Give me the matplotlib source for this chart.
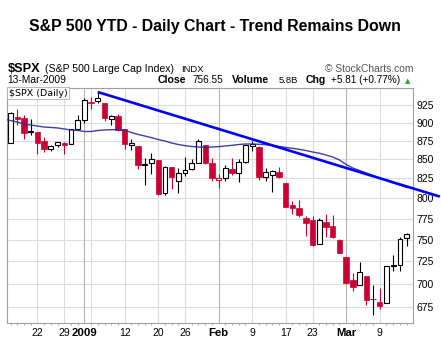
#!/usr/bin/env python3

import numpy as np
import matplotlib
matplotlib.use("Agg")
from matplotlib import pyplot as plt
from matplotlib.ticker import FixedLocator, NullLocator

plt.rcParams['font.family'] = ['Liberation Sans', 'DejaVu Sans']

# daily $SPX bars, Dec 15 2008 .. Mar 13 2009 (first bar sits just off the left edge)
dates = ['2008-12-15', '2008-12-16', '2008-12-17', '2008-12-18', '2008-12-19',
         '2008-12-22', '2008-12-23', '2008-12-24', '2008-12-26', '2008-12-29',
         '2008-12-30', '2008-12-31', '2009-01-02', '2009-01-05', '2009-01-06',
         '2009-01-07', '2009-01-08', '2009-01-09', '2009-01-12', '2009-01-13',
         '2009-01-14', '2009-01-15', '2009-01-16', '2009-01-20', '2009-01-21',
         '2009-01-22', '2009-01-23', '2009-01-26', '2009-01-27', '2009-01-28',
         '2009-01-29', '2009-01-30', '2009-02-02', '2009-02-03', '2009-02-04',
         '2009-02-05', '2009-02-06', '2009-02-09', '2009-02-10', '2009-02-11',
         '2009-02-12', '2009-02-13', '2009-02-17', '2009-02-18', '2009-02-19',
         '2009-02-20', '2009-02-23', '2009-02-24', '2009-02-25', '2009-02-26',
         '2009-02-27', '2009-03-02', '2009-03-03', '2009-03-04', '2009-03-05',
         '2009-03-06', '2009-03-09', '2009-03-10', '2009-03-11', '2009-03-12',
         '2009-03-13']
opens = [881.07, 871.53, 908.16, 905.98, 886.96, 887.20, 874.31, 863.87, 869.51, 872.37,
         870.58, 890.59, 902.99, 929.17, 931.17, 927.45, 905.73, 909.91, 890.40, 869.79,
         867.28, 841.99, 844.45, 849.64, 806.77, 839.74, 822.16, 832.50, 837.30, 845.73,
         868.89, 845.69, 823.09, 825.69, 837.77, 831.75, 846.09, 868.24, 866.87, 827.41,
         829.91, 833.95, 818.61, 791.06, 787.91, 775.87, 773.25, 744.69, 770.64, 765.76,
         749.93, 729.57, 704.44, 698.60, 708.27, 684.04, 680.76, 679.28, 719.59, 720.89,
         751.97]
highs = [884.63, 914.66, 918.85, 911.02, 905.47, 887.37, 880.44, 869.79, 873.74, 873.70,
         891.12, 910.32, 934.73, 936.63, 943.85, 927.45, 910.00, 911.93, 890.40, 877.02,
         867.28, 851.59, 858.13, 849.64, 841.72, 839.74, 838.61, 852.53, 850.45, 877.86,
         868.89, 851.66, 830.78, 842.60, 851.85, 850.55, 870.75, 875.01, 868.05, 838.22,
         835.48, 839.43, 818.61, 796.17, 797.58, 778.69, 777.85, 775.49, 780.12, 779.42,
         751.27, 729.57, 711.67, 724.12, 708.27, 699.09, 695.27, 719.60, 731.92, 752.63,
         758.29]
lows = [857.72, 871.53, 895.94, 877.44, 883.02, 857.09, 860.10, 861.44, 866.52, 857.07,
        870.58, 889.67, 899.35, 919.53, 927.28, 902.37, 896.81, 888.31, 864.32, 862.02,
        836.93, 817.04, 830.66, 804.47, 804.30, 811.29, 806.07, 827.69, 835.40, 845.73,
        844.15, 821.67, 812.87, 821.98, 829.18, 819.91, 845.42, 861.65, 822.99, 822.30,
        808.06, 825.21, 789.17, 780.43, 777.03, 754.25, 742.37, 744.69, 752.89, 751.75,
        734.52, 699.70, 692.30, 698.60, 677.93, 666.79, 672.88, 679.28, 713.85, 714.76,
        742.46]
closes = [868.57, 913.18, 904.42, 885.28, 887.88, 871.63, 863.16, 868.15, 872.80, 869.42,
          890.64, 903.25, 931.80, 927.45, 934.70, 906.65, 909.73, 890.35, 870.26, 871.79,
          842.62, 843.74, 850.12, 805.22, 840.24, 827.50, 831.95, 836.57, 845.71, 874.09,
          845.14, 825.88, 825.44, 838.51, 832.23, 845.85, 868.60, 869.89, 827.16, 833.74,
          835.19, 826.84, 789.17, 788.42, 778.94, 770.05, 743.33, 773.14, 764.90, 752.83,
          735.09, 700.82, 696.33, 712.87, 682.55, 683.38, 676.53, 719.60, 721.36, 750.74,
          756.55]
# moving average overlay
ma_vals = [905.0, 902.9, 900.8, 898.0, 896.6, 895.2, 893.8, 893.2, 892.5, 891.1,
           889.7, 889.0, 887.6, 887.6, 889.0, 889.7, 890.1, 890.1, 889.3, 886.2,
           883.5, 881.4, 879.1, 876.6, 874.6, 871.8, 869.8, 868.2, 867.1, 866.4,
           866.0, 866.4, 866.9, 867.8, 868.7, 869.8, 870.5, 870.5, 870.1, 869.5,
           868.7, 867.1, 865.8, 864.7, 863.3, 861.7, 859.7, 858.0, 855.7, 853.0,
           849.1, 843.1, 838.5, 835.3, 832.0, 828.8, 825.3, 822.4, 819.2, 816.6,
           813.7]

tick_dates = ['2008-12-22', '2008-12-29', '2009-01-02', '2009-01-12', '2009-01-20',
              '2009-01-26', '2009-02-02', '2009-02-09', '2009-02-17', '2009-02-23',
              '2009-03-02', '2009-03-09']
tick_labels = ['22', '29', '2009', '12', '20', '26', 'Feb', '9', '17', '23', 'Mar', '9']
bold_labels = ['2009', 'Feb', 'Mar']
week_dates = ['2008-12-22', '2008-12-29', '2009-01-05', '2009-01-12', '2009-01-20',
              '2009-01-26', '2009-02-09', '2009-02-17', '2009-02-23', '2009-03-09']
month_dates = ['2009-01-02', '2009-02-02', '2009-03-02']
price_ticks = [675, 700, 725, 750, 775, 800, 825, 850, 875, 900, 925]

# hand-drawn trend line: from the Jan 6 high, running past the right edge
trend_x = [14, 64.96]
trend_vals = [943.85, 802.0]

red = '#cc0033'
W, H = 441, 361

fig = plt.figure(figsize=(W / 100, H / 100), dpi=100)
fig.patch.set_facecolor('white')
ax = fig.add_axes([7.3 / W, 1 - 323.3 / H, (413.3 - 7.3) / W, (323.3 - 88) / H])

ax.set_yscale('log')
ax.set_ylim(658.4, 949.8)
ax.set_xlim(0.52, 61.0)

x = np.arange(len(dates))

# grid
for p in price_ticks:
    ax.axhline(p, color='#dcdcdc', lw=0.8, zorder=0)
for d in week_dates:
    ax.axvline(dates.index(d), color='#dcdcdc', lw=0.8, zorder=0)
for d in month_dates:
    ax.axvline(dates.index(d), color='#b4b4b4', lw=0.8, zorder=0)

# candles
for i in range(len(dates)):
    o, h, l, c = opens[i], highs[i], lows[i], closes[i]
    prev = closes[i - 1] if i > 0 else o
    col = red if c < prev else 'black'
    ax.vlines(i, l, h, color=col, lw=0.8, zorder=3)
    if c > o:
        ax.bar(i, c - o, bottom=o, width=0.7, facecolor='white', edgecolor=col,
               lw=0.8, zorder=4)
    else:
        ax.bar(i, max(o - c, 0.5), bottom=c, width=0.8, facecolor=col, edgecolor=col,
               lw=0.5, zorder=4)

ax.plot(x, ma_vals, color='#2b2b99', lw=1.0, alpha=0.9, zorder=5)
ax.plot(trend_x, trend_vals, color='#0000ff', lw=1.9, zorder=6, clip_on=False,
        solid_capstyle='butt')

# axes styling
for s in ax.spines.values():
    s.set_color('#a0a0a0')
    s.set_linewidth(0.8)

ax.yaxis.tick_right()
ax.yaxis.set_major_locator(FixedLocator(price_ticks))
ax.yaxis.set_minor_locator(NullLocator())
ax.set_yticklabels([str(p) for p in price_ticks])
ax.tick_params(axis='y', which='major', length=0, pad=2.5, labelsize=7.5,
               labelcolor='black')

ax.set_xticks([dates.index(d) for d in tick_dates])
ax.set_xticklabels(tick_labels)
ax.xaxis.set_minor_locator(FixedLocator(x))
ax.tick_params(axis='x', which='major', length=0, pad=3.5, labelsize=7.5)
ax.tick_params(axis='x', which='minor', length=1.5, width=0.6, color='#a0a0a0')
for t in ax.get_xticklabels():
    if t.get_text() in bold_labels:
        t.set_fontweight('bold')
        t.set_fontsize(8.2)

ax.text(0.004, 0.997, '$SPX (Daily)', transform=ax.transAxes, ha='left', va='top',
        fontsize=6.8, family='DejaVu Sans', zorder=8,
        bbox=dict(facecolor='white', edgecolor='#b0b0b0', lw=0.6, pad=1.2))

# title and header lines
fig.text(214.5 / W, 1 - 26 / H, 'S&P 500 YTD - Daily Chart - Trend Remains Down',
         ha='center', va='center', fontsize=11.4, fontweight='bold')

y1 = 1 - 71.5 / H
fig.text(7.3 / W, y1, '$SPX', fontsize=9.2, fontweight='bold', va='baseline')
fig.text(45 / W, y1, '(S&P 500 Large Cap Index)', fontsize=7.6, va='baseline')
fig.text(181 / W, y1, 'INDX', fontsize=6.8, va='baseline')
fig.text(413.3 / W, y1, '© StockCharts.com', fontsize=7.4, va='baseline', ha='right',
         color='#555555')

y2 = 1 - 82.7 / H
fig.text(7.3 / W, y2, '13-Mar-2009', fontsize=7.4, va='baseline')
fig.text(157.3 / W, y2, 'Close', fontsize=7.6, fontweight='bold', va='baseline')
fig.text(192.7 / W, y2, '756.55', fontsize=7.2, va='baseline')
fig.text(232.3 / W, y2, 'Volume', fontsize=7.6, fontweight='bold', va='baseline')
fig.text(278.3 / W, y2, '5.8B', fontsize=6.8, va='baseline')
fig.text(306 / W, y2, 'Chg', fontsize=7.6, fontweight='bold', va='baseline')
fig.text(331 / W, y2, '+5.81 (+0.77%)', fontsize=7.2, va='baseline')
fig.text(405 / W, y2, '▲', fontsize=5, va='baseline', color='#2e9e2e',
         family='DejaVu Sans')

fig.savefig('out.png', dpi=100)
